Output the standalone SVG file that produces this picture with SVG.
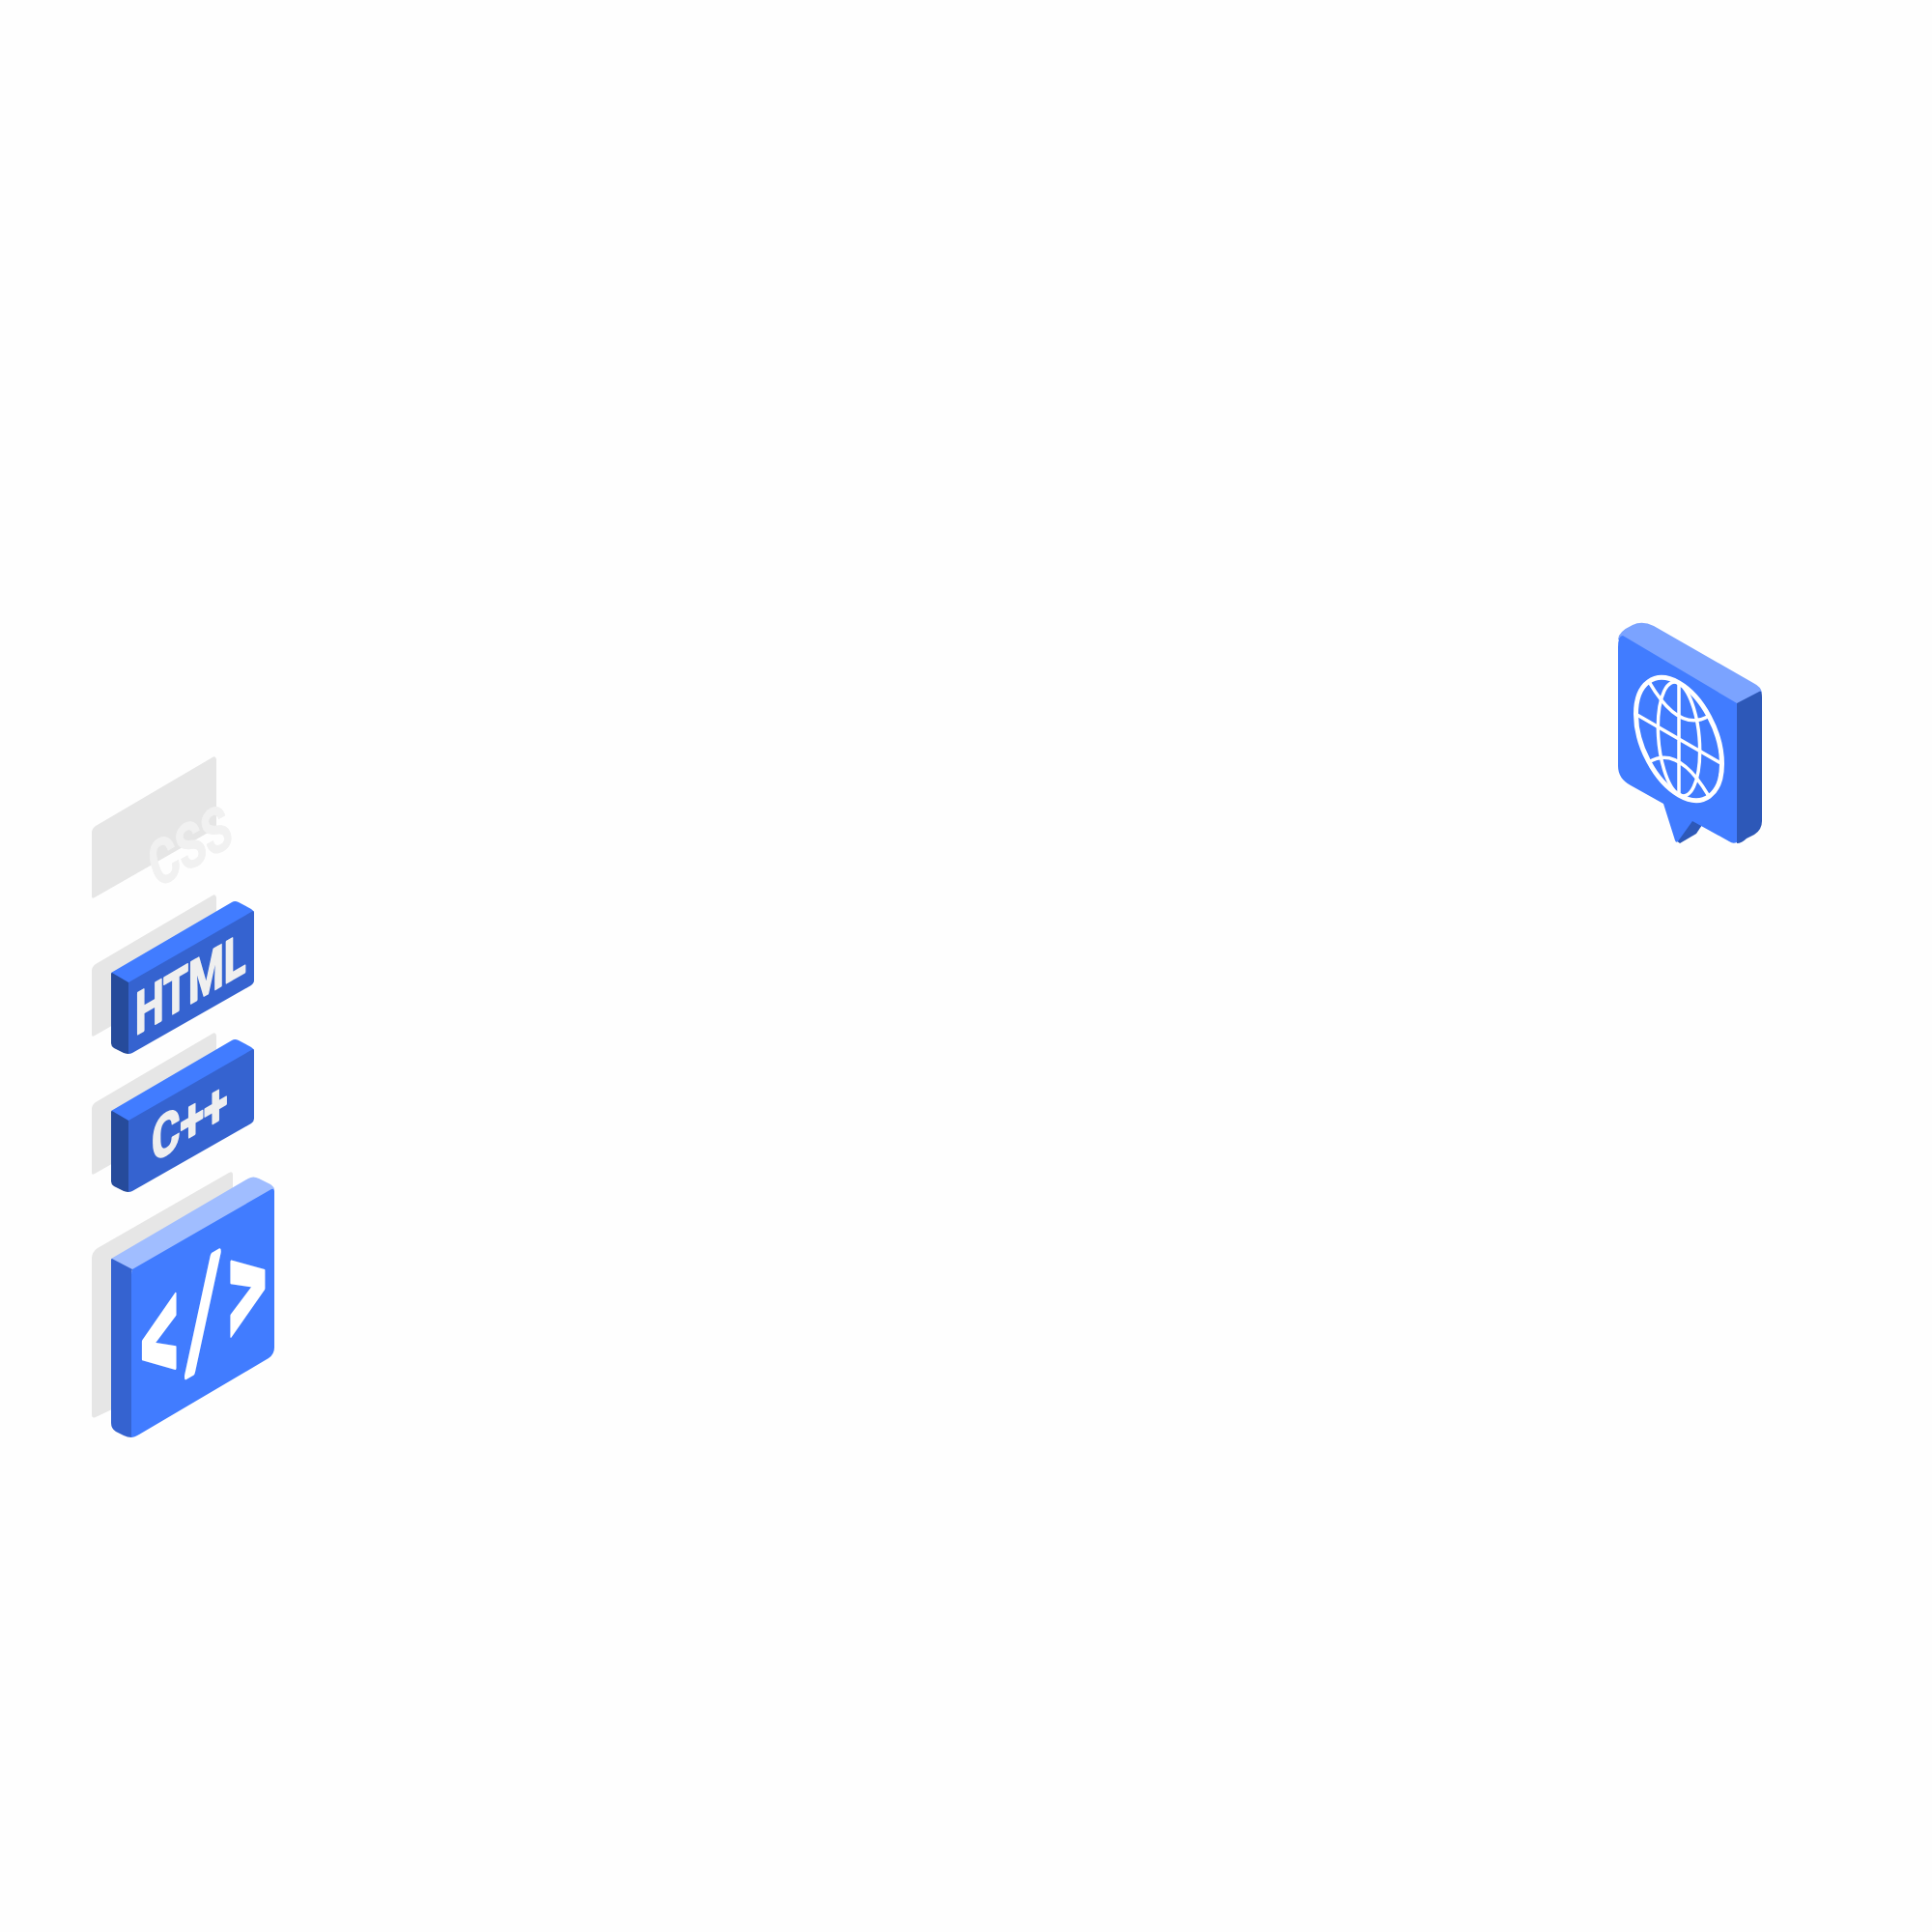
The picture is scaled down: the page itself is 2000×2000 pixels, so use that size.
<svg xmlns="http://www.w3.org/2000/svg" xmlns:xlink="http://www.w3.org/1999/xlink" width="2000" height="2000" viewBox="0 0 2000 2000">
<style>
.shadow{fill:#e6e6e6}
.lbl{font-family:"Roboto","Liberation Sans",sans-serif;font-weight:700;font-size:60px;fill:#efefef;stroke:#efefef;stroke-width:2;stroke-linejoin:round}
.globe{fill:none;stroke:#fff;stroke-width:3.5;vector-effect:non-scaling-stroke}
</style>
<defs>
<path id="panel" class="shadow" d="M95,862Q95,858 99,855L220,784Q223,782 224,786V857L98,929Q95,931 95,928Z"/>
<g id="block">
<path fill="#417cff" d="M115,1007L240,934Q243,932 247,934L260,941Q263,943 263,945L133,1019Z"/>
<path fill="#264b9b" d="M115,1008Q115,1007 116,1007L133,1017V1091Q131,1091 128,1090L118,1085Q115,1083 115,1080Z"/>
<path fill="#3563d0" d="M133,1017L262,943Q263,943 263,945V1015Q263,1018 260,1020L137,1090Q135,1091 133,1091Z"/>
</g>
</defs>
<rect width="2000" height="2000" fill="#fefefe"/>
<g id="css-panel">
<use xlink:href="#panel" href="#panel"/>
<text class="lbl" style="fill:#f1f1f1;stroke:#f1f1f1;stroke-width:1" transform="matrix(.72,-.415,.3,1,162,920)">CSS</text>
</g>
<g id="html-panel"><use xlink:href="#panel" href="#panel" y="143"/></g>
<g id="html-block">
<use xlink:href="#block" href="#block"/>
<text class="lbl" transform="matrix(.7,-.404,0,1,140,1072)">HTML</text>
</g>
<g id="cpp-panel"><use xlink:href="#panel" href="#panel" y="286"/></g>
<g id="cpp-block">
<use xlink:href="#block" href="#block" y="143"/>
<text class="lbl" transform="matrix(.75,-.433,0,1,157,1204)">C++</text>
</g>
<g id="code-block">
<path class="shadow" d="M95,1303Q95,1296 101,1292L237,1214Q241,1212 241,1216V1400L99,1467Q95,1469 95,1464Z"/>
<path fill="#a0bdff" d="M115,1303L257,1220Q262,1217 268,1220L280,1226Q284,1229 284,1231L137,1315Z"/>
<path fill="#3563d0" d="M115,1304Q115,1303 116,1303L137,1314Q136,1316 136,1320V1488Q132,1488 128,1486L120,1482Q115,1479 115,1473Z"/>
<path fill="#417cff" d="M137,1314L281,1231Q284,1230 284,1233V1395Q284,1402 278,1406L144,1485Q139,1488 136,1488V1320Q136,1316 137,1314Z"/>
<text font-family="Roboto,'Liberation Sans',sans-serif" font-weight="700" font-size="165" fill="#fff" stroke="#fff" stroke-width="3" stroke-linejoin="round" transform="matrix(.49,-.283,0,1,145.4,1449)"><tspan x="0" y="0">&lt;</tspan><tspan x="107" y="-6" font-size="140" font-style="italic" stroke-width="8">/</tspan><tspan x="182" y="0">&gt;</tspan></text>
</g>
<g id="globe-bubble">
<path fill="#7ba3ff" d="M1675,662Q1675,654 1690,647Q1700,642 1712,648L1815,707Q1823,711 1824,717L1798,729L1675,662Z"/>
<path fill="#2d58b8" d="M1798,728L1821,716Q1824,714 1824,722V850Q1824,859 1816,864L1808,868Q1803,873 1798,873Z"/>
<path fill="#2d58b8" d="M1752,848L1762,854L1756,863L1739,873L1735,870Z"/>
<path fill="#417cff" d="M1675,670Q1675,658 1680,658L1798,728V872Q1794,874 1790,871L1752,850L1737,871Q1735,873 1734,870L1722,832L1688,813Q1675,806 1675,793Z"/>
<g transform="matrix(.866,.5,0,1.13,1738,765)">
<circle class="globe" r="51.4" style="stroke-width:5"/>
<ellipse class="globe" rx="25" ry="51"/>
<path class="globe" d="M-51.4,0H51.4M0,-51.4V51.4M-35,-36Q0,-6 35,-36M-35,36Q0,6 35,36"/>
</g>
</g>
</svg>
